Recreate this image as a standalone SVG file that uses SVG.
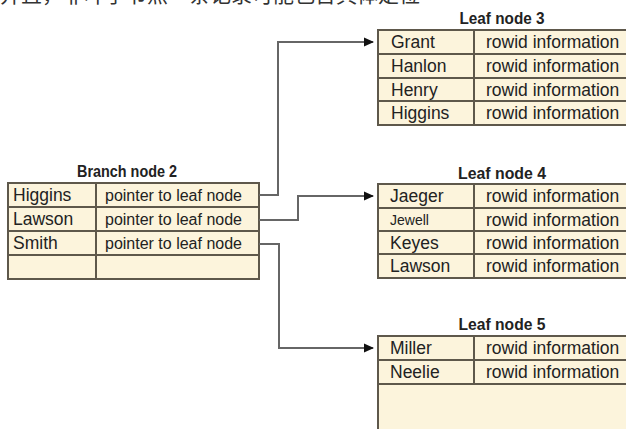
<svg xmlns="http://www.w3.org/2000/svg" width="626" height="429" viewBox="0 0 626 429">
  <defs>
    <marker id="arrow" markerWidth="10" markerHeight="10" refX="9" refY="5" orient="auto" markerUnits="userSpaceOnUse">
      <path d="M0,0.5 L10,5 L0,9.5 Z" fill="#111"/>
    </marker>
  </defs>
  <style>
    .cell { fill: #fcf4dc; stroke: #5e584b; stroke-width: 2; }
    .rule { stroke: #5e584b; stroke-width: 2; fill: none; }
    .txt { font-family: "Liberation Sans", Arial, sans-serif; font-size: 17.5px; fill: #222; }
    .ptr { font-family: "Liberation Sans", Arial, sans-serif; font-size: 16px; fill: #222; }
    .small { font-size: 14px; }
    .title { font-family: "Liberation Sans Narrow", "Liberation Sans", Arial, sans-serif; font-weight: bold; font-size: 17px; fill: #222; text-anchor: middle; }
    .conn { stroke: #666; stroke-width: 2; fill: none; }
    .cap { font-family: "Noto Sans CJK SC", "Noto Sans", sans-serif; font-size: 21px; fill: #333; }
  </style>

  <rect width="626" height="429" fill="#fff"/>

  <!-- heading line, clipped at the top edge -->
  <text class="cap" x="0" y="2">并且，非叶子节点一条记录可能包含具体定位</text>

  <!-- branch block -->
  <g id="branch-node-2">
    <text class="title" x="127" y="177" textLength="100" lengthAdjust="spacingAndGlyphs">Branch node 2</text>
    <rect class="cell" x="8" y="183" width="251" height="96"/>
    <path class="rule" d="M8,207 H259 M8,231 H259 M8,255 H259 M96,183 V279"/>
    <text class="txt" x="13" y="201">Higgins</text>
    <text class="ptr" x="105" y="201">pointer to leaf node</text>
    <text class="txt" x="13" y="225">Lawson</text>
    <text class="ptr" x="105" y="225">pointer to leaf node</text>
    <text class="txt" x="13" y="249">Smith</text>
    <text class="ptr" x="105" y="249">pointer to leaf node</text>
  </g>

  <!-- leaf block 3 -->
  <g id="leaf-node-3">
    <text class="title" x="502" y="24" textLength="85" lengthAdjust="spacingAndGlyphs">Leaf node 3</text>
    <rect class="cell" x="378" y="30" width="262" height="95"/>
    <path class="rule" d="M378,54 H640 M378,78 H640 M378,101 H640 M474,30 V125"/>
    <text class="txt" x="391" y="48">Grant</text>
    <text class="txt" x="486" y="48">rowid information</text>
    <text class="txt" x="391" y="72">Hanlon</text>
    <text class="txt" x="486" y="72">rowid information</text>
    <text class="txt" x="391" y="96">Henry</text>
    <text class="txt" x="486" y="96">rowid information</text>
    <text class="txt" x="391" y="119">Higgins</text>
    <text class="txt" x="486" y="119">rowid information</text>
  </g>

  <!-- leaf block 4 -->
  <g id="leaf-node-4">
    <text class="title" x="502" y="179" textLength="88" lengthAdjust="spacingAndGlyphs">Leaf node 4</text>
    <rect class="cell" x="378" y="184" width="262" height="94"/>
    <path class="rule" d="M378,208 H640 M378,231 H640 M378,254 H640 M474,184 V278"/>
    <text class="txt" x="390" y="202">Jaeger</text>
    <text class="txt" x="486" y="202">rowid information</text>
    <text class="txt small" x="390" y="225">Jewell</text>
    <text class="txt" x="486" y="226">rowid information</text>
    <text class="txt" x="390" y="249">Keyes</text>
    <text class="txt" x="486" y="249">rowid information</text>
    <text class="txt" x="390" y="272">Lawson</text>
    <text class="txt" x="486" y="272">rowid information</text>
  </g>

  <!-- leaf block 5 -->
  <g id="leaf-node-5">
    <text class="title" x="502" y="330" textLength="87" lengthAdjust="spacingAndGlyphs">Leaf node 5</text>
    <rect class="cell" x="378" y="336" width="262" height="110"/>
    <path class="rule" d="M378,360 H640 M378,384 H640 M474,336 V384"/>
    <text class="txt" x="390" y="354">Miller</text>
    <text class="txt" x="486" y="354">rowid information</text>
    <text class="txt" x="390" y="378">Neelie</text>
    <text class="txt" x="486" y="378">rowid information</text>
  </g>

  <!-- pointers from branch entries to leaf blocks -->
  <g id="connectors">
    <path class="conn" d="M259,195 H278 V42 H373" marker-end="url(#arrow)"/>
    <path class="conn" d="M259,220 H298 V196 H373" marker-end="url(#arrow)"/>
    <path class="conn" d="M259,244 H279 V348 H373" marker-end="url(#arrow)"/>
  </g>
</svg>
